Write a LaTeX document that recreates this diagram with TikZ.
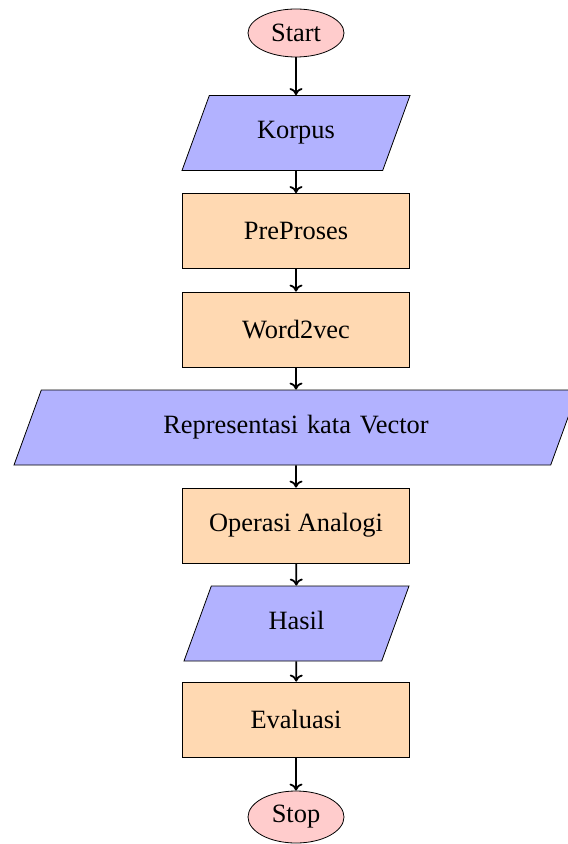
\documentclass[tikz,border=0pt]{standalone}
\usepackage{fontspec}
\setmainfont{Liberation Serif}
\usetikzlibrary{shapes.geometric,arrows.meta}
\begin{document}
\begin{tikzpicture}[x=0.5pt,y=-0.5pt,
  font=\fontsize{13.2}{16}\selectfont,
  startstop/.style={ellipse, draw, fill=red!20, line width=0.4pt,
    minimum width=48pt, minimum height=24pt, inner sep=1pt},
  io/.style={trapezium, trapezium left angle=70, trapezium right angle=110,
    draw, fill=blue!30, line width=0.4pt, align=center,
    text height=9pt, text depth=3pt, inner ysep=12.75pt, inner xsep=0pt},
  process/.style={rectangle, draw, fill=orange!30, line width=0.4pt,
    minimum width=113.5pt, minimum height=37.5pt},
  arrow/.style={line width=0.9pt,-{To[length=3.5pt,width=6.5pt]}}]
\useasboundingbox (0,0) rectangle (567,844);
\node[startstop] (start) at (296,33) {Start};
\node[io, text width=86.7pt] (korpus) at (296,133) {Korpus};
\node[process] (pre) at (296,231) {PreProses};
\node[process] (w2v) at (296,329.5) {Word2vec};
\node[io, text width=254.7pt] (rep) at (296,427.5) {Representasi kata Vector};
\node[process] (op) at (296,525.5) {Operasi Analogi};
\node[io, text width=85.2pt] (hasil) at (296.5,623.5) {Hasil};
\node[process] (eval) at (296,719.5) {Evaluasi};
\node[startstop, minimum height=26pt] (stop) at (296,817) {Stop};
\draw[arrow] (start) -- (korpus);
\draw[arrow] (korpus) -- (pre);
\draw[arrow] (pre) -- (w2v);
\draw[arrow] (w2v) -- (rep);
\draw[arrow] (rep) -- (op);
\draw[arrow] (op) -- (hasil);
\draw[arrow] (hasil) -- (eval);
\draw[arrow] (eval) -- (stop);
\end{tikzpicture}
\end{document}
